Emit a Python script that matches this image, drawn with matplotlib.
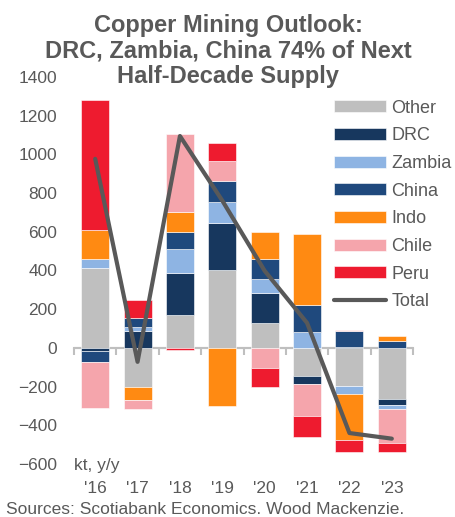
import matplotlib
matplotlib.use('Agg')
import matplotlib.pyplot as plt
import numpy as np

plt.rcParams['font.family'] = ['Liberation Sans', 'DejaVu Sans']

years = ["'16", "'17", "'18", "'19", "'20", "'21", "'22", "'23"]
other = [414, -203, 172, 405, 130, -144, -198, -265]
drc = [-15, 86, 213, 241, 152, -45, 4, -29]
zambia = [48, 24, 127, 108, 75, 84, -40, -24]
china = [-60, 44, 88, 108, 100, 139, 82, 36]
indo = [148, -68, 104, -299, 144, 365, -237, 28]
chile = [-234, -45, 399, 102, -103, -163, 8, -174]
peru = [673, 94, -10, 96, -100, -108, -64, -46]
total = [977, -72, 1095, 761, 398, 129, -440, -469]

series = [
    ('Other', other, '#BFBFBF'),
    ('DRC', drc, '#17375E'),
    ('Zambia', zambia, '#8EB4E3'),
    ('China', china, '#1F497D'),
    ('Indo', indo, '#FF8A12'),
    ('Chile', chile, '#F5A5AC'),
    ('Peru', peru, '#EE1B2F'),
]

txt = '#595959'

fig = plt.figure(figsize=(4.55, 5.17), dpi=100)
ax = fig.add_axes([74/455, 53/517, 339/455, 387/517])

x = np.arange(len(years))
pos = np.zeros(len(years))
neg = np.zeros(len(years))
for name, vals, col in series:
    v = np.array(vals, dtype=float)
    bottom = np.where(v >= 0, pos, neg)
    ax.bar(x, v, 0.66, bottom=bottom, color=col, label=name,
           edgecolor='white', linewidth=0.4)
    pos = pos + np.where(v >= 0, v, 0)
    neg = neg + np.where(v < 0, v, 0)

ax.plot(x, total, color=txt, lw=3, label='Total', solid_capstyle='round')

ax.set_xlim(-0.5, len(years) - 0.5)
ax.set_ylim(-600, 1400)
ax.set_yticks(np.arange(-600, 1401, 200))
ax.tick_params(axis='y', length=0, pad=12, labelsize=12.5, labelcolor=txt)
ax.set_xticks(x)
ax.set_xticklabels(years)
ax.tick_params(axis='x', length=0, pad=12, labelsize=12.5, labelcolor=txt)
for s in ax.spines.values():
    s.set_visible(False)

# zero line with ticks between categories
sec = ax.secondary_xaxis(0.3)
sec.set_xticks(np.arange(-0.5, len(years), 1.0))
sec.set_xticklabels([])
sec.tick_params(length=5, width=1.5, color='#BFBFBF')
sec.spines['bottom'].set_color('#BFBFBF')
sec.spines['bottom'].set_linewidth(1.5)
ax.axhline(0, color='#BFBFBF', lw=1.5, zorder=0.5)

ax.text(0.0, -0.005, 'kt, y/y', transform=ax.transAxes, ha='left', va='center',
        fontsize=12.5, color=txt)

handles, labels = ax.get_legend_handles_labels()
order = labels[1:] + labels[:1]
handles = [handles[labels.index(l)] for l in order]
leg = ax.legend(handles, order, loc='upper left', bbox_to_anchor=(330/455, 1 - 96/517),
                bbox_transform=fig.transFigure, frameon=False, fontsize=13,
                handlelength=2.9, handleheight=0.65, handletextpad=0.3,
                labelspacing=0.59, borderpad=0.2, borderaxespad=0)
for t in leg.get_texts():
    t.set_color(txt)

fig.text(0.502, 1 - 14/517, 'Copper Mining Outlook:\nDRC, Zambia, China 74% of Next\nHalf-Decade Supply',
         ha='center', va='top', fontsize=17, fontweight='bold', color=txt, linespacing=1.15)

fig.text(6/455, 1 - 509/517, 'Sources: Scotiabank Economics. Wood Mackenzie.',
         ha='left', va='center', fontsize=12.5, color=txt)

fig.savefig('out.png', dpi=100)
